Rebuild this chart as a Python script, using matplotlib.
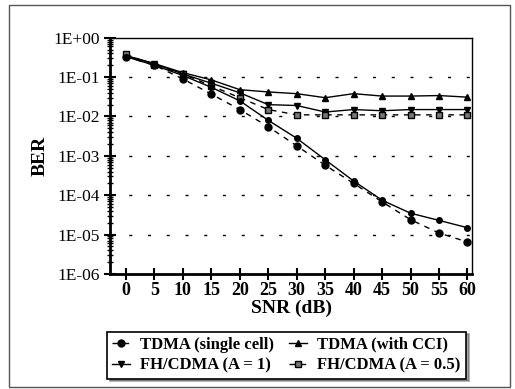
import matplotlib.pyplot as plt
from matplotlib.ticker import LogLocator, NullFormatter, FixedLocator
from matplotlib.patches import Rectangle

plt.rcParams['font.family'] = ['Liberation Serif', 'DejaVu Serif']

snr = [0, 5, 10, 15, 20, 25, 30, 35, 40, 45, 50, 55, 60]

# BER readings per scheme
tdma_single = [0.33, 0.20, 0.09, 0.037, 0.015, 0.0055, 0.0018, 0.00058, 0.0002,
               6.8e-5, 2.4e-5, 1.1e-5, 6.5e-6]
tdma_single_fit = [0.33, 0.20, 0.11, 0.055, 0.025, 0.008, 0.0028, 0.0008, 0.00023,
                   7.5e-5, 3.5e-5, 2.3e-5, 1.5e-5]
tdma_cci = [0.35, 0.22, 0.13, 0.085, 0.048, 0.042, 0.038, 0.03, 0.038,
            0.033, 0.033, 0.034, 0.031]
fh_a1 = [0.35, 0.22, 0.12, 0.07, 0.04, 0.02, 0.019, 0.013, 0.015,
         0.014, 0.015, 0.015, 0.015]
fh_a05 = [0.38, 0.20, 0.12, 0.06, 0.03, 0.015, 0.011, 0.011, 0.011,
          0.011, 0.011, 0.011, 0.011]

yticks = [1e0, 1e-1, 1e-2, 1e-3, 1e-4, 1e-5, 1e-6]
ytick_labels = ['1E+00', '1E-01', '1E-02', '1E-03', '1E-04', '1E-05', '1E-06']

fig = plt.figure(figsize=(5.15, 3.89), dpi=100)
ax = fig.add_axes([0.2136, 0.2956, 0.7029, 0.6074])

# grid lines at each decade
for yv in yticks[1:-1]:
    ax.axhline(yv, color='black', lw=1.0, linestyle=(0, (2.2, 11.3)), zorder=1)

h1, = ax.plot(snr, tdma_single, linestyle=(0, (4, 4)), color='black', lw=1.0,
              marker='o', ms=5, label='TDMA (single cell)')
h2, = ax.plot(snr, tdma_cci, '-', color='black', lw=1.0, marker='^', ms=5,
              label='TDMA (with CCI)')
h3, = ax.plot(snr, fh_a1, '-', color='black', lw=1.0, marker='v', ms=5,
              label='FH/CDMA (A = 1)')
h4, = ax.plot(snr, fh_a05, linestyle=(0, (4, 4)), color='black', lw=1.0,
              marker='s', ms=4.5, markerfacecolor='#777777', label='FH/CDMA (A = 0.5)')
ax.plot(snr, tdma_single_fit, '-', color='black', lw=1.0, marker='o', ms=4)

ax.set_yscale('log')
ax.set_ylim(1e-6, 1)
ax.set_xlim(-2.8, 60.8)
ax.yaxis.set_major_locator(FixedLocator(yticks))
ax.set_yticklabels(ytick_labels)
ax.yaxis.set_minor_locator(LogLocator(base=10, subs=range(2, 10), numticks=20))
ax.yaxis.set_minor_formatter(NullFormatter())
ax.set_xticks(snr)

ax.tick_params(axis='y', which='major', direction='inout', length=8, width=1.5,
               labelsize=12.5, pad=3)
ax.tick_params(axis='y', which='minor', direction='inout', length=5, width=1.0)
ax.tick_params(axis='x', which='major', direction='inout', length=8, width=1.5,
               labelsize=13, pad=2)
for lbl in ax.get_xticklabels():
    lbl.set_fontweight('bold')

ax.spines['left'].set_linewidth(2.0)
ax.spines['bottom'].set_linewidth(2.0)
ax.spines['top'].set_linewidth(1.0)
ax.spines['right'].set_linewidth(1.0)

ax.set_xlabel('SNR (dB)', fontsize=14, fontweight='bold', labelpad=0)
ax.set_ylabel('BER', fontsize=14, fontweight='bold', labelpad=4)

# column-wise fill: first column single/A=1, second column CCI/A=0.5
leg = fig.legend(handles=[h1, h3, h2, h4], loc='center',
                 bbox_to_anchor=(0.556, 0.087), ncol=2,
                 prop={'weight': 'bold', 'size': 12}, frameon=True,
                 fancybox=False, shadow=True, handlelength=1.1,
                 handletextpad=0.6, columnspacing=0.9, labelspacing=0.3,
                 borderpad=0.3)
leg.get_frame().set_edgecolor('black')
leg.get_frame().set_linewidth(1.2)

# scanned page border
fig.patches.append(Rectangle((0.018, 0.005), 0.972, 0.982, transform=fig.transFigure,
                             fill=False, edgecolor='#555555', lw=1.0))

fig.savefig('out.png', dpi=100)
